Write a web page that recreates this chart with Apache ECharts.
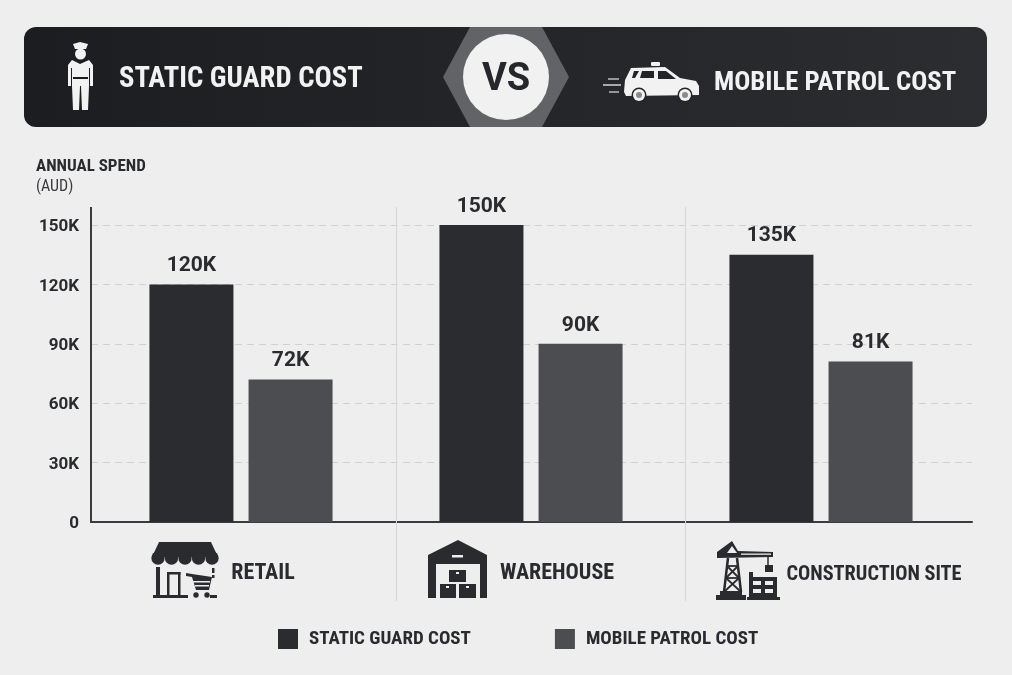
<!DOCTYPE html>
<html><head><meta charset="utf-8">
<style>html,body{margin:0;padding:0;background:#eeeeee}#c{width:1012px;height:675px}</style>
<script src="https://cdn.jsdelivr.net/npm/echarts@6/dist/echarts.min.js"></script>
</head><body><div id="c"></div>
<script>
// Data (thousands of AUD), as printed on the bars.
const categories = ['RETAIL', 'WAREHOUSE', 'CONSTRUCTION SITE'];
const staticGuardCost = [120, 150, 135];
const mobilePatrolCost = [72, 90, 81];
const seriesNames = ['STATIC GUARD COST', 'MOBILE PATROL COST'];
const yTicks = { min: 0, max: 150, interval: 30 };

const NARROW = '"Liberation Sans Narrow","Roboto Condensed",Roboto,sans-serif';
const INK = '#2a2b2f', BG = '#eeeeee', DARK = '#2b2c30', MID = '#4c4d51';

const poly = (points, fill, z) => ({ type: 'polygon', z: z || 5, silent: true, shape: { points }, style: { fill } });
const box = (x, y, width, height, fill, z, r) => ({ type: 'rect', z: z || 5, silent: true, shape: { x, y, width, height, r: r || 0 }, style: { fill } });
const disc = (cx, cy, r, fill, z) => ({ type: 'circle', z: z || 5, silent: true, shape: { cx, cy, r }, style: { fill } });
const seg = (x1, y1, x2, y2, stroke, lineWidth, z, lineDash) => ({ type: 'line', z: z || 5, silent: true, shape: { x1, y1, x2, y2 }, style: { stroke, lineWidth, lineDash } });
const label = (text, x, y, fontSize, fill, extra) => ({ type: 'text', z: 8, silent: true, x, y, style: Object.assign({ text, fontSize, fill, fontWeight: 'bold', fontFamily: NARROW, verticalAlign: 'middle', align: 'left' }, extra || {}) });

const W = '#f2f2f2';
const banner = [
  { type: 'rect', z: 3, silent: true, shape: { x: 24, y: 27, width: 963, height: 100, r: 12 },
    style: { fill: { type: 'linear', x: 0, y: 0, x2: 1, y2: 0, colorStops: [{ offset: 0, color: '#1c1d21' }, { offset: 1, color: '#2c2d31' }] } } },
  poly([[443, 77], [470, 27], [542, 27], [569, 77], [542, 127], [470, 127]], '#626367', 4),
  disc(506, 77, 43, '#f1f1f1', 5),
  label('VS', 506, 80, 38, '#26272b', { align: 'center', fontFamily: 'Roboto,sans-serif' }),
  label('STATIC GUARD COST', 119, 80, 28.6, W),
  label('MOBILE PATROL COST', 714, 83, 26.7, W)
];
const guard = [
  poly([[73, 44], [80, 42], [88, 44], [86, 49], [75, 49]], W),
  disc(80.5, 54, 5.5, W),
  poly([[72, 60], [80, 64], [89, 60], [93, 65], [93, 86], [89, 86], [88, 110], [82, 110], [81, 86], [80, 86], [79, 110], [73, 110], [72, 86], [68, 86], [68, 65]], W),
  box(73, 77, 15, 2, '#1c1d21', 6),
  seg(71.5, 68, 71.5, 86, '#1c1d21', 1, 6),
  seg(89.5, 68, 89.5, 86, '#1c1d21', 1, 6)
];
const car = [
  seg(608, 79, 619, 79, '#bdbdbd', 1.5), seg(603, 85, 621, 85, '#d5d5d5', 1.5), seg(609, 92, 619, 92, '#bdbdbd', 1.5),
  box(651, 62, 9, 4, W, 5, 1),
  poly([[631, 68], [665, 67], [680, 78], [696, 81], [699, 86], [699, 95], [626, 96], [624, 92], [625, 80]], W),
  poly([[634, 71], [639, 71], [635, 78], [632, 78]], '#232428', 6),
  poly([[642, 71], [654, 71], [654, 78], [640, 78]], '#232428', 6),
  poly([[658, 71], [666, 71], [676, 79], [658, 79]], '#232428', 6),
  disc(639, 95, 7.5, '#232428', 6), disc(639, 95, 6, W, 7), disc(639, 95, 3, '#8a8a8a', 8),
  disc(685, 95, 7.5, '#232428', 6), disc(685, 95, 6, W, 7), disc(685, 95, 3, '#8a8a8a', 8)
];
const shop = [
  poly([[159, 542], [211, 542], [218, 557], [152, 557]], INK),
  ...[158, 171.5, 185, 198.5, 212].map(x => disc(x, 558, 6.7, INK)),
  box(156, 567, 4, 29, INK), box(153, 595, 35, 3, INK),
  box(167, 572, 2.5, 24, INK), box(178, 572, 2.5, 24, INK), box(167, 572, 13.5, 2.5, INK),
  poly([[186, 573], [192, 574], [212, 577], [209, 590], [196, 590], [192, 577], [186, 576]], INK),
  box(193, 581, 17, 1.5, BG, 6), box(195, 585, 14, 1.5, BG, 6),
  disc(196, 595, 2.7, INK), disc(207, 595, 2.7, INK),
  box(212, 568, 2.5, 5, INK), box(212, 575, 2.5, 3, INK), box(210, 595, 7, 3, INK)
];
const warehouse = [
  poly([[458, 540], [487, 555], [487, 598], [480, 598], [480, 564], [436, 564], [436, 598], [428, 598], [428, 555]], INK),
  box(452, 555, 11, 2.5, BG, 6),
  box(449, 570, 17, 12, INK), box(440, 584, 16, 14, INK), box(459, 584, 17, 14, INK),
  box(456, 572, 3, 2, BG, 6), box(446, 586, 3, 2, BG, 6), box(466, 586, 3, 2, BG, 6)
];
const crane = [
  poly([[732, 541], [738, 551], [773, 552], [773, 557], [717, 558], [717, 552]], INK),
  poly([[727, 553], [732, 546], [737, 553]], BG, 6), box(741, 553.5, 30, 1.3, BG, 6),
  seg(728, 558, 724, 592, INK, 2.5), seg(737, 558, 741, 592, INK, 2.5),
  seg(727, 566, 739, 578, INK, 1.8), seg(738, 566, 726, 578, INK, 1.8),
  seg(726, 578, 740, 591, INK, 1.8), seg(739, 578, 725, 591, INK, 1.8), seg(727, 566, 738, 566, INK, 1.8), seg(726, 578, 739, 578, INK, 1.8),
  box(720, 591, 22, 5, INK), box(716, 595, 30, 5, INK),
  seg(768, 557, 768, 566, INK, 1.5), box(765, 565, 8, 7, INK),
  box(749, 572, 4, 8, INK), box(749, 577, 28, 23, INK), box(747, 597, 33, 3, INK),
  box(753, 581, 8, 4, BG, 6), box(765, 581, 8, 4, BG, 6), box(753, 589, 8, 4, BG, 6), box(765, 589, 8, 4, BG, 6)
];
const rules = [
  seg(396.5, 207, 396.5, 601, '#d6d6d6', 1, 1),
  seg(685.5, 207, 685.5, 601, '#d6d6d6', 1, 1),
  seg(91, 207, 91, 225, '#3a3b3f', 2, 1)
];

const chart = echarts.init(document.getElementById('c'));
const labelShift = [44, 52, 106];
const labelSize = [22, 22, 20.3];
const labelDrop = [0, 0, 3];
chart.setOption({
  backgroundColor: BG,
  animation: false,
  textStyle: { fontFamily: 'Roboto,sans-serif' },
  title: { text: 'ANNUAL SPEND', subtext: '(AUD)', left: 36, top: 158, itemGap: 4, padding: 0,
    textStyle: { fontSize: 17, fontWeight: 'bold', color: INK, fontFamily: NARROW },
    subtextStyle: { fontSize: 16, color: '#3a3b3f', fontFamily: NARROW } },
  legend: { left: 278, top: 629, itemWidth: 20, itemHeight: 20, itemGap: 84, icon: 'rect',
    selectedMode: false, padding: 0,
    textStyle: { fontSize: 19, fontWeight: 'bold', color: INK, fontFamily: NARROW, padding: [0, 0, 0, 6] } },
  grid: [
    { left: 91, right: 40, top: 225, bottom: 153 },
    { left: 96, right: 46, top: 225, bottom: 153 }
  ],
  xAxis: [
    { gridIndex: 0, type: 'category', data: [''], axisTick: { show: false }, axisLabel: { show: false },
      axisLine: { lineStyle: { color: '#3a3b3f', width: 2 } } },
    { gridIndex: 1, type: 'category', data: categories, axisLine: { show: false }, axisTick: { show: false },
      axisLabel: { margin: 40, interval: 0, fontSize: 22,
        formatter: (v, i) => `{c${i}|${v}}`,
        rich: Object.fromEntries(labelShift.map((p, i) => ['c' + i, { fontSize: labelSize[i], fontWeight: 'bold', color: INK, fontFamily: NARROW, padding: [labelDrop[i], 0, 0, p] }])) } }
  ],
  yAxis: [
    { gridIndex: 0, type: 'value', min: yTicks.min, max: yTicks.max, interval: yTicks.interval,
      axisLine: { show: true, lineStyle: { color: '#3a3b3f', width: 2 } }, axisTick: { show: false },
      splitLine: { lineStyle: { color: '#d0d0d0', type: [7, 5], width: 1 } },
      axisLabel: { margin: 12, formatter: v => `{t|${v === 0 ? '0' : v + 'K'}}`,
        rich: { t: { fontSize: 17, fontWeight: 'bold', color: INK, padding: [4, 0, 0, 0] } } } },
    { gridIndex: 1, type: 'value', show: false, min: yTicks.min, max: yTicks.max, interval: yTicks.interval }
  ],
  series: [
    { name: seriesNames[0], type: 'bar', xAxisIndex: 1, yAxisIndex: 1, data: staticGuardCost, barWidth: 84, barGap: '18%',
      itemStyle: { color: DARK }, label: { show: true, position: 'top', distance: 8, fontSize: 21, fontWeight: 'bold', color: INK, formatter: p => p.value + 'K' } },
    { name: seriesNames[1], type: 'bar', xAxisIndex: 1, yAxisIndex: 1, data: mobilePatrolCost, barWidth: 84,
      itemStyle: { color: MID }, label: { show: true, position: 'top', distance: 8, fontSize: 21, fontWeight: 'bold', color: INK, formatter: p => p.value + 'K' } }
  ],
  graphic: [...rules, ...banner, ...guard, ...car, ...shop, ...warehouse, ...crane]
});
</script></body></html>
